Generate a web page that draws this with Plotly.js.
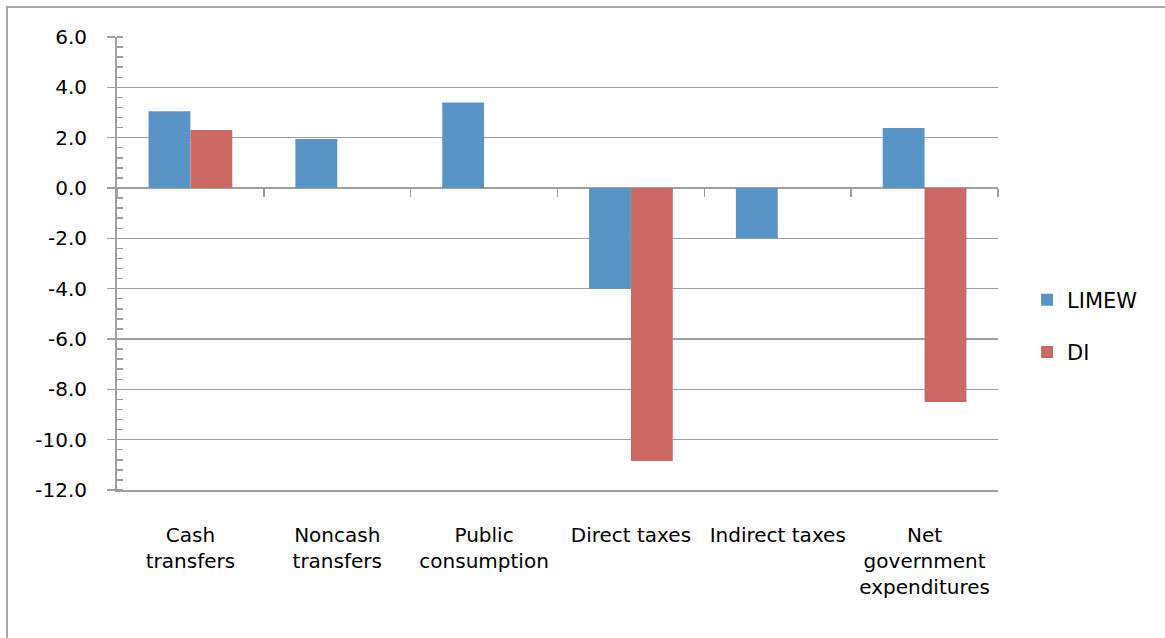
<!DOCTYPE html>
<html>
<head>
<meta charset="utf-8">
<script src="https://cdn.plot.ly/plotly-3.0.1.min.js"></script>
<style>
  html, body { margin: 0; padding: 0; background: #fff; overflow: hidden; }
  #frame { position: absolute; left: 6px; top: 6px; width: 1165px; height: 640px; border: 2px solid #a6a6a6; background:#fff; }
  #chart { width: 1165px; height: 638px; }
</style>
</head>
<body>
<div id="frame"><div id="chart"></div></div>
<script>
const categories = ["Cash<br>transfers", "Noncash<br>transfers", "Public<br>consumption", "Direct taxes", "Indirect taxes", "Net<br>government<br>expenditures"];
const limew = [3.05, 1.95, 3.4, -4.0, -2.0, 2.38];
const di = [2.3, null, null, -10.85, null, -8.5];
const yTickVals = [-12, -10, -8, -6, -4, -2, 0, 2, 4, 6];
const yTickText = ["-12.0", "-10.0", "-8.0", "-6.0", "-4.0", "-2.0", "0.0", "2.0", "4.0", "6.0"];

const font = {family: "DejaVu Sans, sans-serif", size: 20, color: "#000"};
const legendFont = {family: "DejaVu Sans, sans-serif", size: 21, color: "#000"};
const grid = "#a0a0a0";

const data = [
  {type: "bar", name: "LIMEW", x: categories, y: limew, marker: {color: "#5895c6"}, legendgroup: "a", hoverinfo: "y"},
  {type: "bar", name: "DI", x: categories, y: di, marker: {color: "#cc6962"}, legendgroup: "b", hoverinfo: "y"},
  {type: "scatter", mode: "none", x: categories, y: categories.map(() => 0), xaxis: "x2", yaxis: "y", showlegend: false, hoverinfo: "skip"}
];

const layout = {
  width: 1165, height: 638,
  margin: {l: 109, r: 175, t: 29, b: 156},
  paper_bgcolor: "#fff", plot_bgcolor: "#fff",
  font: font,
  barmode: "group", bargap: 0.43, bargroupgap: 0,
  xaxis: {
    type: "category", range: [-0.5, 5.5],
    showgrid: false, zeroline: false,
    showline: true, linecolor: grid, linewidth: 1.5,
    ticks: "", tickfont: font, ticklabelstandoff: 26,
    fixedrange: true
  },
  xaxis2: {
    type: "category", overlaying: "x", matches: "x", anchor: "free", position: 12/18,
    showgrid: false, zeroline: false, showline: false, showticklabels: false,
    ticks: "outside", tickson: "boundaries", ticklen: 8, tickwidth: 1.5, tickcolor: grid
  },
  yaxis: {
    range: [-12, 6], tickmode: "array", tickvals: yTickVals, ticktext: yTickText,
    showgrid: true, gridcolor: grid, gridwidth: 1.5,
    zeroline: true, zerolinecolor: grid, zerolinewidth: 2,
    showline: true, linecolor: grid, linewidth: 2,
    ticks: "outside", ticklen: 8, tickwidth: 1.5, tickcolor: grid,
    minor: {tick0: 0, dtick: 0.4, ticks: "inside", ticklen: 6, tickwidth: 1.5, tickcolor: grid, showgrid: false},
    tickfont: font, ticklabelstandoff: 16,
    fixedrange: true
  },
  showlegend: true,
  legend: {x: 1.033, xanchor: "left", y: 0.362, yanchor: "middle", font: legendFont, tracegroupgap: 22, bgcolor: "rgba(0,0,0,0)"}
};

Plotly.newPlot("chart", data, layout, {displayModeBar: false, staticPlot: true});
</script>
</body>
</html>
